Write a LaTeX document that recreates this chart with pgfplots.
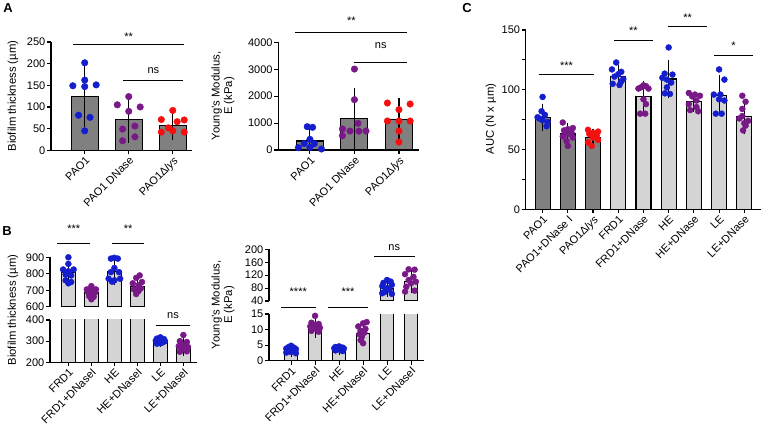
\documentclass[border=0pt]{standalone}
\usepackage{pgfplots}
\pgfplotsset{compat=1.18}
\usepackage{fontspec}
\setmainfont{Liberation Sans}

\definecolor{gpblue}{RGB}{20,30,205}
\definecolor{gppurple}{RGB}{120,25,135}
\definecolor{gpred}{RGB}{245,15,15}
\definecolor{darkbar}{RGB}{128,128,128}
\definecolor{lightbar}{RGB}{212,212,212}
\newcommand{\fs}{\fontsize{11}{12}\selectfont}
\newcommand{\fl}{\fontsize{11.3}{12.5}\selectfont}

\pgfplotsset{
  gp/.style={
    scale only axis, anchor=south west,
    axis lines=left, axis line style={-, line width=1.1pt},
    tick align=outside, major tick length=4pt, minor tick length=4pt,
    every tick/.style={black, line width=1.1pt},
    clip mode=individual,
    tick label style={font=\fs},
    /pgf/number format/assume math mode=true,
    /pgf/number format/1000 sep={},
    scaled y ticks=false,
    x tick label style={rotate=45, anchor=north east, inner sep=1pt},
    yticklabel style={inner sep=1.5pt},
  },
  bar/.style={ybar, bar shift=0pt, draw=black, line width=1.1pt},
  dots/.style={only marks, mark=*, mark size=#1},
  err/.style={draw=none, mark=none, forget plot,
    error bars/.cd, y dir=both, y explicit,
    error bar style={draw=black, line width=1.1pt},
    error mark options={draw=black, line width=1.1pt, mark size=#1}},
}

\begin{document}
\begin{tikzpicture}
\path[use as bounding box] (0pt,0pt) rectangle (762pt,428pt);

% ---------- A, thickness
\begin{axis}[gp, at={(51pt,277.7pt)}, width=140.7pt, height=108.3pt,
  xmin=-0.766, xmax=2.43, ymin=0, ymax=250, ytick={0,50,...,250},
  xtick={0,1,2}, xticklabels={PAO1, PAO1 DNase, PAO1Δ\textit{lys}}]
\addplot[bar, fill=darkbar, bar width=27pt] coordinates {(0,125) (1,72) (2,58)};
\addplot[err=7.5pt] coordinates {(0,125) +- (0,53) (1,72) +- (0,37) (2,58) +- (0,17)};
\addplot[dots=3.3pt, gpblue] coordinates {(0,202) (0,162) (-0.27,149) (0,147) (0.26,151) (-0.14,81) (0.12,76) (0,45)};
\addplot[dots=3.3pt, gppurple] coordinates {(1,124) (0.74,105) (1.26,100) (1,90) (0.86,49) (1.14,56) (1.14,31) (0.86,22)};
\addplot[dots=3.3pt, gpred] coordinates {(2,92) (1.74,71) (2.26,70) (2.1,66) (1.9,52) (1.74,42) (2,45) (2.26,42)};
\draw[line width=1.1pt] (axis cs:-0.27,245) -- (axis cs:2.26,245);
\node[font=\fs] at (axis cs:1,262) {**};
\draw[line width=1.1pt] (axis cs:0.88,162) -- (axis cs:2.24,162);
\node[font=\fs] at (axis cs:1.56,184) {ns};
\end{axis}

% ---------- A, modulus
\begin{axis}[gp, at={(278.3pt,278pt)}, width=140.7pt, height=107.7pt,
  xmin=-0.71, xmax=2.45, ymin=0, ymax=4000, ytick={0,1000,...,4000},
  xtick={0,1,2}, xticklabels={PAO1, PAO1 DNase, PAO1Δ\textit{lys}}]
\addplot[bar, fill=darkbar, bar width=27pt] coordinates {(0,334) (1,1160) (2,1140)};
\addplot[err=7.5pt] coordinates {(0,334) +- (0,359) (1,1160) +- (0,860) (2,1140) +- (0,495)};
\addplot[dots=3.3pt, gpblue] coordinates {(-0.06,866) (0.06,842) (0,396) (-0.13,240) (0.1,235) (-0.26,87) (0,99) (0.26,37)};
\addplot[dots=3.3pt, gppurple] coordinates {(1,3007) (1,1869) (1.08,990) (0.73,780) (0.9,705) (1.26,705) (0.73,532) (1.1,700)};
\addplot[dots=3.3pt, gpred] coordinates {(1.74,1745) (2.25,1708) (2,1498) (1.74,1077) (2,1077) (2.25,1077) (2,705) (2,297)};
\draw[line width=1.1pt] (axis cs:-0.33,4371) -- (axis cs:2.18,4371);
\node[font=\fs] at (axis cs:0.93,4800) {**};
\draw[line width=1.1pt] (axis cs:1.0,3257) -- (axis cs:2.18,3257);
\node[font=\fs] at (axis cs:1.59,3873) {ns};
\end{axis}

% ---------- C, AUC
\begin{axis}[gp, at={(525.7pt,218.7pt)}, width=235pt, height=179.3pt,
  xmin=-0.67, xmax=8.65, ymin=0, ymax=150, ytick={0,50,100,150}, minor y tick num=1,
  xtick={0,...,8}, xticklabels={PAO1, PAO1+DNase I, PAO1Δ\textit{lys}, FRD1, FRD1+DNase, HE, HE+DNase, LE, LE+DNase}]
\addplot[bar, fill=darkbar, bar width=15pt] coordinates {(0,77) (1,63) (2,60)};
\addplot[bar, fill=lightbar, bar width=15pt] coordinates {(3,111) (4,94.5) (5,109) (6,90) (7,95.5) (8,77.5)};
\addplot[err=4pt] coordinates {(0,77) +- (0,8) (1,63) +- (0,6) (2,60) +- (0,4) (3,111) +- (0,6.5) (4,94.5) +- (0,9.5) (5,109) +- (0,12.7) (6,90) +- (0,5) (7,95.5) +- (0,13.5) (8,77.5) +- (0,10.8)};
\addplot[dots=3pt, gpblue] coordinates {(0,94) (-0.04,82) (-0.13,76) (0,74.5) (0.16,69.5) (-0.2,77) (0.09,79) (0.2,73)
  (2.92,122.8) (2.75,117) (3.12,115) (3,113) (2.85,111) (3.2,109) (3.12,107) (2.78,105) (3.05,104)
  (5,135.4) (4.84,113.5) (5.15,112.7) (4.75,110) (4.93,108.5) (5.1,106) (4.93,102) (5.05,96.5) (4.85,97)
  (7,117) (7.21,108.5) (6.79,96) (7,92) (7.21,91) (6.87,80) (7.1,80) (7.05,96)};
\addplot[dots=3pt, gppurple] coordinates {(0.8,72.6) (1.2,68) (1,67) (0.85,66) (1.15,64) (1,63) (0.8,61) (1.2,60) (0.95,57) (1,53)
  (3.8,101) (4,103.7) (4.2,101) (3.9,102) (4.1,103) (4,92) (4.1,88) (3.87,80) (4.07,80)
  (5.8,97.3) (6.04,96) (6.24,95) (5.93,94.5) (6.1,91) (5.8,88) (6.1,85.5) (5.85,83) (6.17,82)
  (7.92,95) (8.05,90) (7.92,84) (7.92,78) (7.8,76) (8.15,74) (8,72) (8.05,70) (7.95,66)};
\addplot[dots=3pt, gpred] coordinates {(1.8,66.5) (2.2,65) (2,64) (1.85,63) (2.15,61.5) (2,60) (2.2,58) (1.8,56) (1.95,53)};
\draw[line width=1.1pt] (axis cs:-0.15,112.4) -- (axis cs:2.04,112.4);
\node[font=\fs] at (axis cs:0.95,120) {***};
\draw[line width=1.1pt] (axis cs:2.84,141.4) -- (axis cs:4.37,141.4);
\node[font=\fs] at (axis cs:3.6,149) {**};
\draw[line width=1.1pt] (axis cs:4.98,152.6) -- (axis cs:6.51,152.6);
\node[font=\fs] at (axis cs:5.75,160) {**};
\draw[line width=1.1pt] (axis cs:6.8,129) -- (axis cs:8.33,129);
\node[font=\fs] at (axis cs:7.57,136.5) {*};
\end{axis}

% ---------- B, thickness, lower part
\begin{axis}[gp, at={(50pt,65.7pt)}, width=146.7pt, height=42.3pt,
  xmin=-0.8, xmax=5.58, ymin=200, ymax=400, ytick={200,300,400},
  xtick={0,...,5}, xticklabels={FRD1, FRD1+DNaseI, HE, HE+DNaseI, LE, LE+DNaseI}]
\addplot[bar, fill=lightbar, bar width=13.5pt] coordinates {(0,806) (1,685) (2,814) (3,722) (4,302) (5,274)};
\addplot[err=4pt] coordinates {(4,302) +- (0,10) (5,274) +- (0,25)};
\addplot[dots=3pt, gpblue] coordinates {(4,318) (3.85,312) (4.15,310) (4,305) (3.8,302) (4.2,300) (3.9,296) (4.1,294) (4,290) (3.85,288)};
\addplot[dots=3pt, gppurple] coordinates {(5,329) (4.85,300) (5.15,296) (5,282) (4.8,276) (5.2,272) (4.9,262) (5.1,258) (4.85,250) (5.15,252)};
\draw[line width=1.1pt] (axis cs:3.8,376) -- (axis cs:5.29,376);
\node[font=\fs] at (axis cs:4.55,420) {ns};
\end{axis}

% ---------- B, thickness, upper part
\begin{axis}[gp, at={(50pt,121.3pt)}, width=146.7pt, height=49.4pt,
  axis x line=none, xtick=\empty,
  xmin=-0.8, xmax=5.58, ymin=600, ymax=900, ytick={600,700,800,900}]
\addplot[bar, fill=lightbar, bar width=13.5pt] coordinates {(0,806) (1,685) (2,814) (3,722)};
\addplot[err=4pt] coordinates {(0,806) +- (0,45) (1,685) +- (0,25) (2,814) +- (0,60) (3,722) +- (0,35)};
\addplot[dots=3pt, gpblue] coordinates {(0,900) (0,860) (-0.23,826) (0.23,826) (0,815) (-0.12,795) (0.12,790) (-0.12,760) (0,742) (0.12,750)
  (2,897) (1.85,892) (2.15,892) (2,835) (1.85,810) (2.2,810) (1.75,770) (2,760) (2.25,770) (1.9,752)};
\addplot[dots=3pt, gppurple] coordinates {(1,725) (0.8,705) (1.2,705) (1,695) (0.85,690) (1.15,685) (1,675) (0.9,665) (1.1,660) (1,645)
  (3.1,790) (2.95,775) (3.2,750) (2.8,742) (3.05,730) (2.85,705) (3.15,712) (2.95,677) (3.05,695)};
\draw[line width=1.1pt] (axis cs:-0.48,985) -- (axis cs:0.94,985);
\node[font=\fs] at (axis cs:0.23,1075) {***};
\draw[line width=1.1pt] (axis cs:1.91,985) -- (axis cs:3.29,985);
\node[font=\fs] at (axis cs:2.6,1075) {**};
\end{axis}

% ---------- B, modulus, lower part
\begin{axis}[gp, at={(269pt,67.3pt)}, width=155pt, height=46.7pt,
  xmin=-0.92, xmax=5.54, ymin=0, ymax=15, ytick={0,5,10,15},
  xtick={0,...,5}, xticklabels={FRD1, FRD1+DNaseI, HE, HE+DNaseI, LE, LE+DNaseI}]
\addplot[bar, fill=lightbar, bar width=13.5pt] coordinates {(0,3.3) (1,10.7) (2,3.7) (3,8.8) (4,80) (5,100)};
\addplot[err=4pt] coordinates {(0,3.3) +- (0,0.8) (1,10.7) +- (0,2) (2,3.7) +- (0,0.5) (3,8.8) +- (0,2.2)};
\addplot[dots=3pt, gpblue] coordinates {(0,4.8) (-0.1,4.4) (0.12,4.2) (-0.2,3.9) (0.2,3.7) (0,3.5) (-0.15,3.2) (0.15,3.0) (0,2.8) (-0.2,2.6) (0.2,2.4)
  (2,4.6) (1.85,4.4) (2.15,4.2) (1.8,4.0) (2.2,3.9) (2,3.7) (1.9,3.5) (2.1,3.4) (1.85,3.3) (2.15,3.1)};
\addplot[dots=3pt, gppurple] coordinates {(1,14.4) (0.85,12.2) (1.15,11.8) (1,11.5) (0.8,11.0) (1.2,10.6) (0.9,10.3) (1.1,10.0) (0.85,9.6) (1.15,9.3)
  (3.15,12.4) (3,12.0) (2.8,11.0) (3.1,10.2) (2.9,9.6) (3.05,9.0) (2.85,8.5) (2.95,7.7) (2.9,6.6) (3,5.6)};
\draw[line width=1.1pt] (axis cs:-0.42,17) -- (axis cs:1.03,17);
\node[font=\fs] at (axis cs:0.3,22) {****};
\draw[line width=1.1pt] (axis cs:1.53,17) -- (axis cs:3.22,17);
\node[font=\fs] at (axis cs:2.37,22) {***};
\end{axis}

% ---------- B, modulus, upper part
\begin{axis}[gp, at={(269pt,127pt)}, width=155pt, height=51.7pt,
  axis x line=none, xtick=\empty,
  xmin=-0.92, xmax=5.54, ymin=40, ymax=200, ytick={40,80,...,200}]
\addplot[bar, fill=lightbar, bar width=13.5pt] coordinates {(4,80) (5,100)};
\addplot[err=4pt] coordinates {(4,80) +- (0,15) (5,100) +- (0,24)};
\addplot[dots=3pt, gpblue] coordinates {(4,105) (4.15,100) (3.85,96) (4.2,90) (3.8,86) (4,80) (4.1,75) (3.9,68) (3.8,64) (4.2,62)};
\addplot[dots=3pt, gppurple] coordinates {(4.9,138) (5.15,137) (4.75,123) (5.1,115) (4.9,105) (5.2,100) (5,95) (4.8,84) (5.15,72) (4.75,69)};
\draw[line width=1.1pt] (axis cs:3.46,177) -- (axis cs:5.17,177);
\node[font=\fs] at (axis cs:4.3,206) {ns};
\end{axis}

% ---------- panel letters and axis titles
\node[font=\fontsize{13}{14}\selectfont\bfseries] at (8pt,420pt) {A};
\node[font=\fontsize{13}{14}\selectfont\bfseries] at (7pt,197pt) {B};
\node[font=\fontsize{13}{14}\selectfont\bfseries] at (467pt,420pt) {C};
\node[font=\fl, rotate=90] at (13pt,332pt) {Biofilm thickness (µm)};
\node[font=\fl, rotate=90, align=center] at (223pt,332pt) {Young's Modulus,\\E (kPa)};
\node[font=\fl, rotate=90] at (491pt,309pt) {AUC (N x µm)};
\node[font=\fl, rotate=90] at (13pt,118pt) {Biofilm thickness (µm)};
\node[font=\fl, rotate=90, align=center] at (223pt,123pt) {Young's Modulus,\\E (kPa)};
\end{tikzpicture}
\end{document}
